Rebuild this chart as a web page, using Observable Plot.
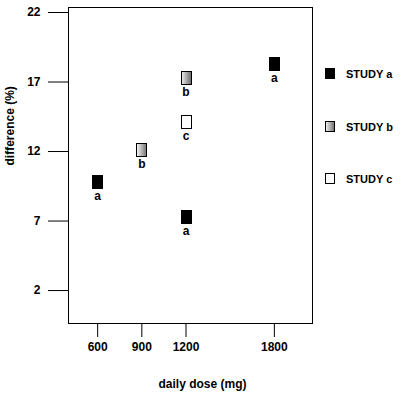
<!DOCTYPE html>
<html>
<head>
<meta charset="utf-8">
<script src="https://cdn.jsdelivr.net/npm/d3@7"></script>
<script src="https://cdn.jsdelivr.net/npm/@observablehq/plot@0.6"></script>
<style>
  html, body { margin: 0; padding: 0; background: #fff; }
  #wrap { position: relative; width: 402px; height: 395px; font-family: "Liberation Sans", Arial, sans-serif; }
  #legend { position: absolute; left: 325px; top: 66px; font-size: 11px; font-weight: bold; color: #000; }
  .li { display: flex; align-items: center; height: 16px; }
  .li svg { margin-right: 10px; }
</style>
</head>
<body>
<div id="wrap"></div>
<script>
// Data
const doses   = [600, 1200, 1800, 900, 1200, 1200];
const studies = ["a", "a", "a", "b", "b", "c"];
const diffs   = [9.8, 7.3, 18.3, 12.1, 17.3, 14.1];
const xTicks  = [600, 900, 1200, 1800];
const yTicks  = [2, 7, 12, 17, 22];
const studyNames = ["a", "b", "c"];
const studyFills = ["#000", "url(#gradB)", "#fff"];

const data = doses.map((d, i) => ({dose: d, study: studies[i], diff: diffs[i]}));

const rectSymbol = {
  draw(ctx) { ctx.rect(-5, -6.5, 10, 13); }
};

const font = "Liberation Sans, Arial, sans-serif";

const chart = Plot.plot({
  width: 402,
  height: 395,
  marginLeft: 68,
  marginRight: 90,
  marginTop: 7,
  marginBottom: 72,
  style: {fontFamily: font, fontSize: "12px", fontWeight: "bold", color: "#000", background: "#fff"},
  x: {domain: [402, 2059], ticks: xTicks, tickFormat: d => String(d), label: null},
  y: {domain: [-0.37, 22.36], ticks: yTicks, label: null},
  marks: [
    Plot.frame({stroke: "#000"}),
    Plot.axisX({ticks: xTicks, tickSize: 14, tickPadding: 5, tickFormat: d => String(d), label: null}),
    Plot.axisY({ticks: yTicks, tickSize: 20, tickPadding: 8, label: null}),
    ...studyNames.map((s, i) => Plot.dot(data.filter(d => d.study === s), {
      x: "dose", y: "diff", symbol: rectSymbol, fill: studyFills[i], stroke: "#000",
      strokeWidth: 1, strokeLinejoin: "miter", shapeRendering: "crispEdges"
    })),
    Plot.text(data, {x: "dose", y: "diff", text: "study", dy: 14, fontSize: 12, fontWeight: "bold"}),
    Plot.text(["daily dose (mg)"], {frameAnchor: "bottom", dx: 12, dy: 64, fontSize: 12, fontWeight: "bold"}),
    Plot.text(["difference (%)"], {frameAnchor: "left", dx: -58, rotate: -90, fontSize: 12, fontWeight: "bold"})
  ]
});

d3.select(chart).insert("defs", ":first-child").html(
  '<linearGradient id="gradB" x1="0" x2="1" y1="0" y2="0">' +
  '<stop offset="0" stop-color="#f4f4f4"/><stop offset="1" stop-color="#6e6e6e"/></linearGradient>'
);

const wrap = document.getElementById("wrap");
wrap.appendChild(chart);

// Legend
const legend = document.createElement("div");
legend.id = "legend";
const gaps = [0, 37, 36];
studyNames.forEach((s, i) => {
  const row = document.createElement("div");
  row.className = "li";
  row.style.marginTop = gaps[i] + "px";
  row.innerHTML = `<svg width="11" height="12" shape-rendering="crispEdges"><defs><linearGradient id="lg${i}" x1="0" x2="1"><stop offset="0" stop-color="#f4f4f4"/><stop offset="1" stop-color="#6e6e6e"/></linearGradient></defs>` +
    `<rect x="0.5" y="0.5" width="9" height="10" fill="${i === 1 ? `url(#lg${i})` : studyFills[i]}" stroke="#000"/></svg><span>STUDY ${s}</span>`;
  legend.appendChild(row);
});
wrap.appendChild(legend);
</script>
</body>
</html>
